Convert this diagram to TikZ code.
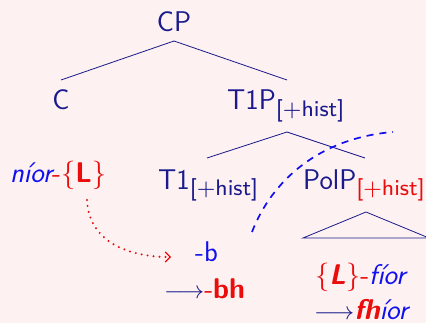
\documentclass[tikz,border=0pt]{standalone}
\usepackage{fontspec}
\usepackage{amsmath}
\usetikzlibrary{arrows.meta}
\newfontfamily\subfam{lmsans8-regular.otf}
\definecolor{bg}{RGB}{253,241,241}
\definecolor{navy}{RGB}{26,26,140}
\definecolor{bblue}{RGB}{15,15,240}
\definecolor{rred}{RGB}{235,12,12}
\newcommand\mainsz{\fontsize{28.5}{30}\selectfont}
\newcommand\subtxt[2][-6pt]{\raisebox{#1}{\subfam\fontsize{22.5}{23}\selectfont #2}}
\begin{document}
\begin{tikzpicture}[x=1pt,y=1pt, font=\sffamily\mainsz,
  lbl/.style={inner sep=0pt, anchor=base west, text=navy},
  branch/.style={draw=navy, line width=0.8pt}]
\path[fill=bg] (0,0) rectangle (426,-323);
\useasboundingbox (0,0) rectangle (426,-323);
\begin{scope}
\clip (0,0) rectangle (426,-323);
% nodes
\node[lbl, anchor=base] (CP) at (174,-32) {CP};
\node[lbl, anchor=base] (C) at (61,-110) {C};
\node[lbl] (T1P) at (227,-110) {T1P\subtxt[-7pt]{[+hist]}};
\node[lbl] (T1) at (158,-190) {T1\subtxt{[+hist]}};
\node[lbl] (PolP) at (303,-190) {PolP\subtxt{\color{rred}[+hist]}};
\node[lbl] (nior) at (10,-183) {\color{bblue}\itshape níor\color{rred}\upshape-\{\textbf{L}\}};
\node[lbl, text=bblue] (b) at (195,-262) {-b};
\node[lbl] (bh) at (164,-299) {$\longrightarrow$\color{rred}-\textbf{bh}};
\node[lbl] (fior) at (315,-284) {\color{rred}\{\textbf{\itshape L}\}-\color{bblue}\itshape fíor};
\node[lbl] (fhior) at (314,-319.5) {$\longrightarrow$\color{rred}\bfseries\itshape fh\color{bblue}\mdseries íor};
% tree coordinates
\coordinate (CPb) at (174,-41);
\coordinate (Ct) at (61,-80);
\coordinate (T1Pt) at (287,-80);
\coordinate (T1Pb) at (287,-132);
\coordinate (T1t) at (207,-158);
\coordinate (PolPt) at (365,-158);
\coordinate (triA) at (366,-212);
\coordinate (triL) at (303,-238);
\coordinate (triR) at (429,-238);
\draw[branch] (Ct) -- (CPb) -- (T1Pt);
\draw[branch] (T1t) -- (T1Pb) -- (PolPt);
\draw[branch] (triL) -- (triA) -- (triR) -- cycle;
% dashed curve
\coordinate (dS) at (252,-232);
\coordinate (dE) at (393,-132);
\draw[draw=bblue, line width=1.7pt, dash pattern=on 7pt off 6pt]
  (dS) .. controls (272,-180) and (320,-138) .. (dE);
% dotted arrow
\coordinate (aS) at (87,-200);
\coordinate (aE) at (171,-257);
\draw[draw=rred, line width=2.2pt, line cap=round, dash pattern=on 0pt off 6pt,
  -{Straight Barb[length=5pt,width=10pt,line width=1.2pt]}]
  (aS) .. controls (89,-243) and (130,-257) .. (aE);
\end{scope}
\end{tikzpicture}
\end{document}
